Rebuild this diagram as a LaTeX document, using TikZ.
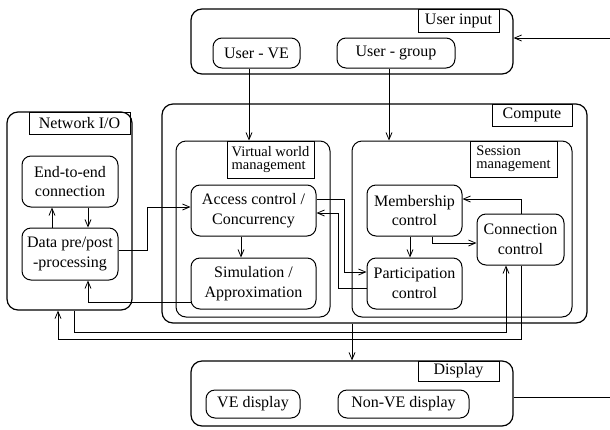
\documentclass[tikz,border=0pt]{standalone}
\usepackage{fontspec}
\setmainfont{Liberation Serif}
\usetikzlibrary{arrows.meta}
\begin{document}
\begin{tikzpicture}[x=1pt,y=-1pt,
  outer/.style={draw,line width=1.2pt,rounded corners=11pt,minimum width=#1,inner sep=0pt},
  inner/.style={draw,line width=1pt,rounded corners=8pt,inner sep=0pt},
  lab/.style={draw,line width=1pt,inner sep=0pt,font=\fontsize{16}{19.5}\selectfont},
  lab2/.style={draw,line width=1pt,inner sep=0pt,align=left,font=\fontsize{14.5}{13.5}\selectfont},
  blk/.style={draw,line width=1pt,rounded corners=9pt,inner sep=0pt,align=center,font=\fontsize{16}{19.5}\selectfont},
  conn/.style={line width=0.8pt},
  arr/.style={line width=0.8pt,-{Straight Barb[length=7pt,width=6pt]}}]
\useasboundingbox (0,0) rectangle (610,429);
% outer boxes
\node[outer=322pt,minimum height=65pt] (UI) at (352,41.5) {};
\node[outer=425pt,minimum height=219pt] (COMP) at (374.5,213.5) {};
\node[outer=125pt,minimum height=198pt] (NIO) at (69.5,211) {};
\node[outer=322pt,minimum height=65pt] (DISP) at (352,393.5) {};
\node[outer=154pt,minimum height=176pt,line width=1pt,rounded corners=10pt] (VWM) at (253,229) {};
\node[outer=220pt,minimum height=176pt,line width=1pt,rounded corners=10pt] (SM) at (462,229) {};
% labels
\node[lab,minimum width=81pt,minimum height=23pt] (UIL) at (458.5,20.5) {User input};
\node[lab,minimum width=80pt,minimum height=22pt] (COMPL) at (532,115) {Compute};
\node[lab,minimum width=101pt,minimum height=22pt] (NIOL) at (79.5,123) {Network I/O};
\node[lab,minimum width=81pt,minimum height=20pt] (DISPL) at (458.5,371) {Display};
\node[lab2,minimum width=87pt,minimum height=37pt] (VWML) at (270.5,159.5) {Virtual world\\management};
\node[lab2,minimum width=87pt,minimum height=36pt] (SML) at (513.5,159) {Session\\management};
% inner blocks
\node[blk,minimum width=87pt,minimum height=30pt] (UVE) at (256.5,53) {User - VE};
\node[blk,minimum width=118pt,minimum height=30pt] (UG) at (396,53) {User - group};
\node[blk,minimum width=96pt,minimum height=51pt] (E2E) at (70,181.5) {End-to-end\\connection};
\node[blk,minimum width=96pt,minimum height=52pt] (DPP) at (70,254) {Data pre/post\\-processing};
\node[blk,minimum width=125pt,minimum height=51pt] (AC) at (253.5,210.5) {Access control /\\Concurrency};
\node[blk,minimum width=125pt,minimum height=51pt] (SIM) at (253.5,283.5) {Simulation /\\Approximation};
\node[blk,minimum width=95pt,minimum height=51pt] (MC) at (414.5,210.5) {Membership\\control};
\node[blk,minimum width=95pt,minimum height=51pt] (PC) at (414.5,283.5) {Participation\\control};
\node[blk,minimum width=87pt,minimum height=51pt] (CC) at (520.5,239.5) {Connection\\control};
\node[blk,minimum width=94pt,minimum height=28pt] (VED) at (253,404) {VE display};
\node[blk,minimum width=131pt,minimum height=28pt] (NVED) at (403.5,404) {Non-VE display};
% helper coordinates
\coordinate (inR) at (610,38);
\coordinate (outR) at (610,397);
\coordinate (x249) at (249,0);
\coordinate (x389) at (389,0);
\coordinate (x352) at (352,0);
\coordinate (x52) at (52,0);
\coordinate (x88) at (88,0);
\coordinate (x241) at (241,0);
\coordinate (x410) at (410,0);
\coordinate (x432) at (432,0);
\coordinate (x521) at (521,0);
\coordinate (x506) at (506,0);
\coordinate (x74) at (74,0);
\coordinate (x58) at (58,0);
\coordinate (y250) at (0,250);
\coordinate (y207) at (0,207);
\coordinate (y302) at (0,302);
\coordinate (y199) at (0,199);
\coordinate (y272) at (0,272);
\coordinate (y288) at (0,288);
\coordinate (y213) at (0,213);
\coordinate (y243) at (0,243);
\coordinate (y332) at (0,332);
\coordinate (y339) at (0,339);
% connectors
\draw[arr] (inR) -- (inR -| UI.east);
\draw[conn] (outR -| DISP.east) -- (outR);
\draw[arr] (x249 |- UVE.south) -- (x249 |- VWM.north);
\draw[arr] (x389 |- UG.south) -- (x389 |- SM.north);
\draw[arr] (x352 |- COMP.south) -- (x352 |- DISP.north);
\draw[arr] (x52 |- DPP.north) -- (x52 |- E2E.south);
\draw[arr] (x88 |- E2E.south) -- (x88 |- DPP.north);
\draw[arr] (DPP.east |- y250) -- (147,250) -- (147,207) -- (AC.west |- y207);
\draw[arr] (SIM.west |- y302) -- (x88 |- y302) -- (x88 |- DPP.south);
\draw[arr] (x241 |- AC.south) -- (x241 |- SIM.north);
\draw[arr] (AC.east |- y199) -- (344,199) -- (344,272) -- (PC.west |- y272);
\draw[arr] (PC.west |- y288) -- (338,288) -- (338,213) -- (AC.east |- y213);
\draw[arr] (x410 |- MC.south) -- (x410 |- PC.north);
\draw[arr] (x432 |- MC.south) -- (x432 |- y243) -- (CC.west |- y243);
\draw[arr] (x521 |- CC.north) -- (x521 |- y199) -- (MC.east |- y199);
\draw[arr] (x74 |- NIO.south) -- (x74 |- y332) -- (x506 |- y332) -- (x506 |- CC.south);
\draw[arr] (x521 |- CC.south) -- (x521 |- y339) -- (x58 |- y339) -- (x58 |- NIO.south);
\end{tikzpicture}
\end{document}
